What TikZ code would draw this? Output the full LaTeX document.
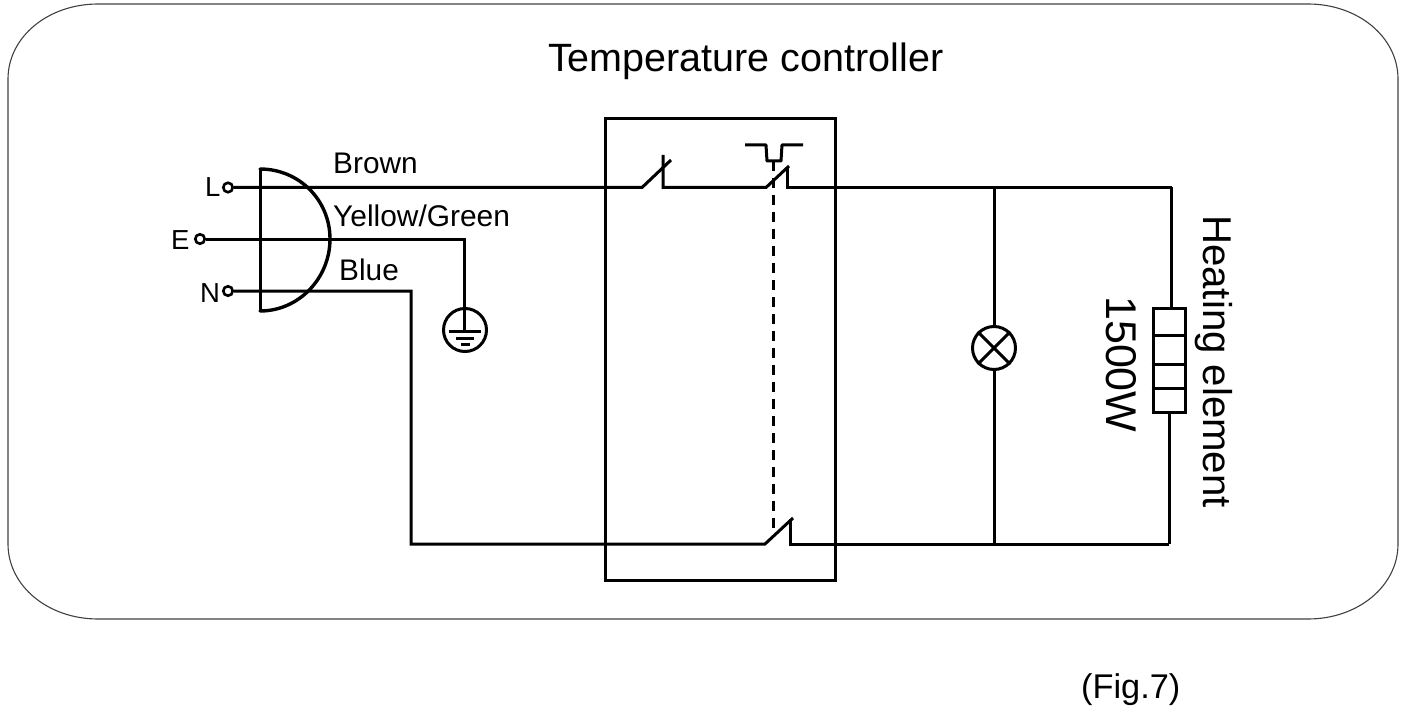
\documentclass[tikz,border=0pt]{standalone}
\usepackage{fontspec}
\setmainfont{Liberation Sans}
\newcommand{\fsz}[1]{\fontsize{#1}{#1}\selectfont}
\tikzset{
  wire/.style={draw=black,line width=3pt,line join=miter},
  frameline/.style={draw=black!75,line width=1.1pt},
  plugline/.style={draw=black,line width=3.4pt,line cap=round},
  terminal/.style={circle,draw=black,fill=white,line width=2.6pt,inner sep=0pt,minimum size=9.5pt},
  sym/.style={circle,draw=black,line width=3pt,inner sep=0pt,minimum size=43pt},
  label/.style={anchor=base west,inner sep=0pt,text=black},
}
\begin{document}
\begin{tikzpicture}[x=1pt,y=-1pt]
\useasboundingbox (0,0) rectangle (1408,714);
\draw[frameline] (98,4) -- (1308,4)
  .. controls (1358,4) and (1398,37) .. (1398,79) -- (1398,544)
  .. controls (1398,586) and (1358,619) .. (1308,619) -- (98,619)
  .. controls (48,619) and (8,586) .. (8,544) -- (8,79)
  .. controls (8,37) and (48,4) .. (98,4) -- cycle;
% texts
\node[label,font=\fsz{39.5}] (title) at (548,72) {Temperature controller};
\node[label,font=\fsz{29.8}] (brown) at (333,174) {Brown};
\node[label,font=\fsz{29.9}] (yg) at (333,226) {Yellow/Green};
\node[label,font=\fsz{29.8}] (blue) at (339,280) {Blue};
\node[label,font=\fsz{27.5}] (ltxt) at (205,197) {L};
\node[label,font=\fsz{27.5}] (etxt) at (171,249) {E};
\node[label,font=\fsz{27.5}] (ntxt) at (200,302) {N};
\node[label,font=\fsz{40.2},rotate=-90] (heat) at (1203,215) {Heating element};
\node[label,font=\fsz{43},rotate=-90] (watt) at (1106,296) {1500W};
\node[label,font=\fsz{34.3}] (fig) at (1081,698) {(Fig.7)};
% terminals
\node[terminal] (L) at (228,187.5) {};
\node[terminal] (E) at (200,239) {};
\node[terminal] (N) at (228,291) {};
% coordinates
\coordinate (sa1) at (642,187.5);
\coordinate (sa2) at (671,160);
\coordinate (sa3) at (663,155);
\coordinate (sa4) at (663,187.5);
\coordinate (sb1) at (766,187.5);
\coordinate (sb2) at (789,166);
\coordinate (sb3) at (787,168);
\coordinate (sb4) at (787,187.5);
\coordinate (sc1) at (765,544);
\coordinate (sc2) at (793,518);
\coordinate (sc3) at (790,519);
\coordinate (sc4) at (790,544);
\coordinate (jt) at (994,187.5);
\coordinate (jb) at (994,544);
\coordinate (rt) at (1171.5,187.5);
\coordinate (rb) at (1169,544);
\coordinate (egnd) at (464,239);
\coordinate (nc) at (411,291);
\coordinate (nb) at (411,544);
% plug
\draw[plugline] (260,169) .. controls (299,169) and (330,200) .. (330,239)
  .. controls (330,278) and (299,311) .. (260,311);
\draw[wire] (260,169) -- (260,311);
% ground
\node[sym] (gnd) at (465,330) {};
\draw[wire] (E) -- (egnd) -- (egnd |- 0,331);
\draw[wire] (449,331) -- (481,331);
\draw[wire] (456,338) -- (474,338);
\draw[wire] (461,344.5) -- (470,344.5);
% wires
\draw[wire] (L) -- (sa1) -- (sa2);
\draw[wire] (sa3) -- (sa4) -- (sb1) -- (sb2);
\draw[wire] (sb3) -- (sb4) -- (rt);
\draw[wire] (N) -- (nc) -- (nb) -- (sc1) -- (sc2);
\draw[wire] (sc3) -- (sc4) -- (rb);
% box
\node[draw=black,line width=3pt,inner sep=0pt,minimum width=230pt,minimum height=461pt] (box) at (720,349.5) {};
% thermostat
\draw[wire,line join=round] (745,145) -- (766,145) -- (767,161) -- (781,161) -- (782,145) -- (803,145);
\draw[wire,dash pattern=on 10pt off 7pt] (773.5,161) -- (773.5,532);
% lamp
\node[sym] (lamp) at (994,348) {};
\draw[wire] (jt) -- (lamp.north);
\draw[wire] (lamp.south) -- (jb);
\draw[wire] (lamp.45) -- (lamp.225);
\draw[wire] (lamp.135) -- (lamp.315);
% resistor
\node[draw=black,line width=3pt,inner sep=0pt,minimum width=32pt,minimum height=104pt] (res) at (1169,360) {};
\draw[wire] (rt) -- (rt |- res.north);
\draw[wire] (rb |- res.south) -- (rb);
\draw[wire] (res.west |- 0,335) -- (res.east |- 0,335);
\draw[wire] (res.west |- 0,364) -- (res.east |- 0,364);
\draw[wire] (res.west |- 0,388) -- (res.east |- 0,388);
\end{tikzpicture}
\end{document}
